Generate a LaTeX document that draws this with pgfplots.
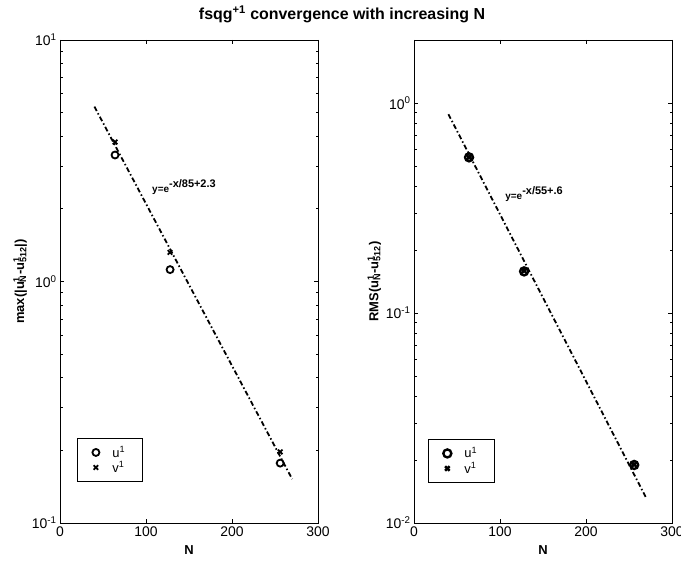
\documentclass[border=0pt]{standalone}
\usepackage{fontspec}
\setmainfont{Liberation Sans}
\usepackage{pgfplots}
\pgfplotsset{compat=1.18}
\newcommand{\su}[2]{\rlap{\textsuperscript{#1}}\textsubscript{#2}}
\newcommand{\ann}[2]{{\bfseries\fontsize{10}{11}\selectfont #1\raisebox{0.95ex}{\fontsize{11}{12}\selectfont #2}}}
\tikzset{
  fitline/.style={black, line width=1.8bp, dash pattern=on 5bp off 2.5bp on 1.5bp off 2.5bp},
  umark/.style={only marks, mark=o, mark size=3.5bp, line width=1.8bp, black},
  vmark/.style={only marks, mark=x, mark size=3.2bp, line width=1.8bp, black},
}
\begin{document}
\begin{tikzpicture}[x=1bp,y=1bp]
\path[use as bounding box] (0,0) rectangle (681,563);
\node[font=\bfseries\fontsize{16}{18}\selectfont] at (342,549) {fsqg\textsuperscript{+1} convergence with increasing N};

\begin{axis}[at={(60bp,40bp)}, anchor=south west,
    scale only axis, width=258bp, height=483bp,
    xmin=0, xmax=300, xtick={0,100,200,300}, xticklabels={0,100,200,300},
    ymode=log, tick align=inside,
    axis line style={black, line width=0.8bp},
    tick style={black, line width=0.6bp},
    major tick length=4bp, minor tick length=2.5bp,
    ticklabel style={font=\fontsize{14}{15}\selectfont},
    label style={font=\bfseries\fontsize{13}{14}\selectfont},
    xlabel={N}, xlabel style={yshift=-2bp},
    ylabel style={yshift=-2bp},
    legend cell align=left,
    legend style={draw=black, line width=0.8bp, font=\fontsize{13}{15}\selectfont,
      anchor=south west, inner xsep=15bp, inner ysep=6bp, row sep=-1bp, at={(0.066,0.085)},
      /tikz/every odd column/.append style={column sep=11bp}},
  ymin=0.1, ymax=10, ytick={0.1,1,10},
  yticklabels={10\textsuperscript{-1},10\textsuperscript{0},10\textsuperscript{1}},
  ylabel={max(|u\su{1}{N}-u\su{1}{512}|)}]
\addplot[umark] coordinates {(64,3.34) (128,1.12) (256,0.177)};
\addlegendentry{u\textsuperscript{1}}
\addplot[vmark] coordinates {(64,3.78) (128,1.32) (256,0.197)};
\addlegendentry{v\textsuperscript{1}}
\addplot[fitline, forget plot] coordinates {(40,5.3) (270,0.152)};
\node[anchor=west, inner sep=0pt] at (axis cs:107,2.45) {\ann{y=e}{-x/85+2.3}};
\end{axis}

\begin{axis}[at={(414bp,40bp)}, anchor=south west,
    scale only axis, width=258bp, height=483bp,
    xmin=0, xmax=300, xtick={0,100,200,300}, xticklabels={0,100,200,300},
    ymode=log, tick align=inside,
    axis line style={black, line width=0.8bp},
    tick style={black, line width=0.6bp},
    major tick length=4bp, minor tick length=2.5bp,
    ticklabel style={font=\fontsize{14}{15}\selectfont},
    label style={font=\bfseries\fontsize{13}{14}\selectfont},
    xlabel={N}, xlabel style={yshift=-2bp},
    ylabel style={yshift=-2bp},
    legend cell align=left,
    legend style={draw=black, line width=0.8bp, font=\fontsize{13}{15}\selectfont,
      anchor=south west, inner xsep=15bp, inner ysep=6bp, row sep=-1bp, at={(0.054,0.083)},
      /tikz/every odd column/.append style={column sep=11bp}},
  ymin=0.01, ymax=2, ytick={0.01,0.1,1},
  yticklabels={10\textsuperscript{-2},10\textsuperscript{-1},10\textsuperscript{0}},
  ylabel={RMS(u\su{1}{N}-u\su{1}{512})}]
\addplot[umark, mark size=4bp, line width=2.4bp] coordinates {(64,0.552) (128,0.158) (256,0.0189)};
\addlegendentry{u\textsuperscript{1}}
\addplot[vmark, line width=2.4bp] coordinates {(64,0.552) (128,0.159) (256,0.0190)};
\addlegendentry{v\textsuperscript{1}}
\addplot[fitline, forget plot] coordinates {(40,0.886) (270,0.01316)};
\node[anchor=west, inner sep=0pt] at (axis cs:106,0.37) {\ann{y=e}{-x/55+.6}};
\end{axis}
\end{tikzpicture}
\end{document}
